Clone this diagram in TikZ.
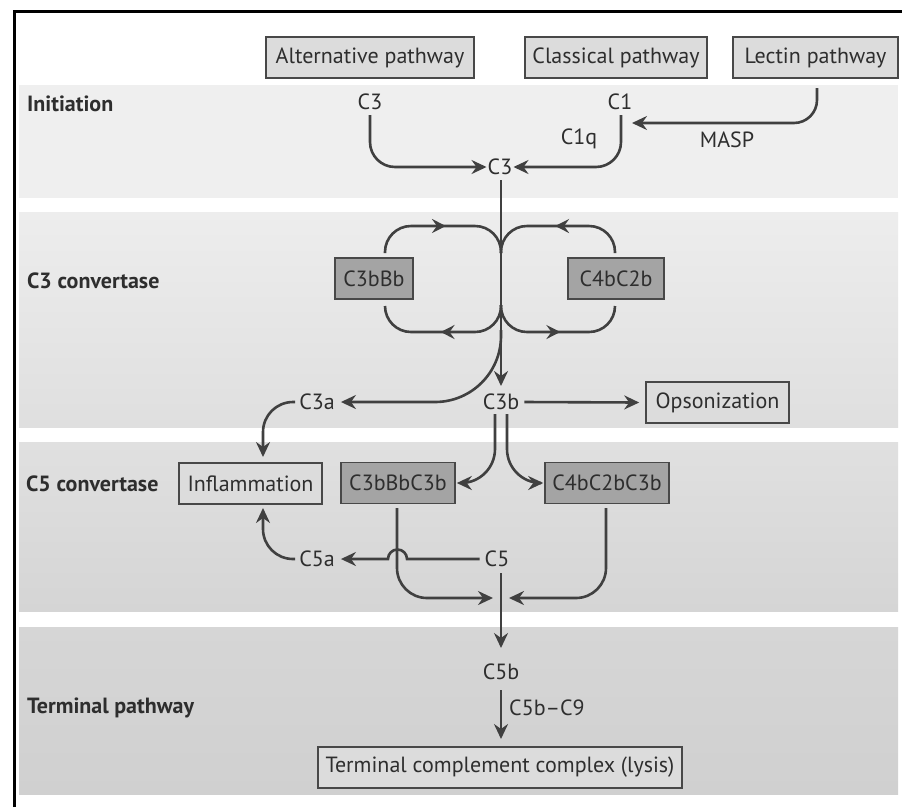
\documentclass[tikz,border=0pt]{standalone}
\usepackage{fontspec}
\setmainfont{PT Sans}
\usetikzlibrary{arrows.meta,decorations.markings}
\definecolor{ink}{HTML}{404040}
\definecolor{txt}{HTML}{2E2E2E}
\definecolor{boxline}{HTML}{484848}
\definecolor{lightfill}{HTML}{DCDCDC}
\definecolor{darkfill}{HTML}{A4A4A4}
\definecolor{bandA}{HTML}{EFEFEF}
\definecolor{bandBt}{HTML}{EDEDED}
\definecolor{bandBb}{HTML}{DFDFDF}
\definecolor{bandCt}{HTML}{E0E0E0}
\definecolor{bandCb}{HTML}{D5D5D5}
\definecolor{bandDt}{HTML}{D6D6D6}
\definecolor{bandDb}{HTML}{D0D0D0}
\begin{document}
\begin{tikzpicture}[x=1pt,y=-1pt,
  lbl/.style={text=txt, font=\fontsize{22}{24}\selectfont, inner sep=0pt},
  sec/.style={text=txt, font=\fontsize{22}{24}\selectfont\bfseries, anchor=west, inner sep=0pt},
  lightbox/.style={draw=boxline, line width=1.6pt, fill=lightfill, text=txt,
     font=\fontsize{22}{24}\selectfont, minimum height=41pt, inner sep=0pt},
  darkbox/.style={lightbox, fill=darkfill},
  con/.style={draw=ink, color=ink, line width=2.6pt, -{Stealth[length=15pt,width=14pt,inset=5pt]}},
  plain/.style={draw=ink, color=ink, line width=2.6pt},
  midarrow/.style={postaction=decorate, decoration={markings,
     mark=at position #1 with {\arrow{Stealth[length=14pt,width=14pt,inset=5pt]}}}}
]
\useasboundingbox (0,0) rectangle (902,807);
\fill[white] (0,0) rectangle (902,807);
% bands
\fill[bandA] (19,85) rectangle (898,198);
\shade[top color=bandBt, bottom color=bandBb] (19,212) rectangle (898,427);
\shade[top color=bandCt, bottom color=bandCb] (19,442) rectangle (898,611);
\shade[top color=bandDt, bottom color=bandDb] (19,627) rectangle (898,794);
% frame
\draw[black, line width=3pt] (14,807) -- (14,11) -- (902,11);

% section labels
\node[sec] (sInit) at (27,104) {Initiation};
\node[sec] (sC3) at (27,281) {C3 convertase};
\node[sec] (sC5) at (26,484) {C5 convertase};
\node[sec] (sTerm) at (27,708) {Terminal pathway};

% pathway boxes
\node[lightbox, minimum width=208pt] (alt) at (370,57.5) {Alternative pathway};
\node[lightbox, minimum width=182pt] (cla) at (616,57.5) {Classical pathway};
\node[lightbox, minimum width=165pt] (lec) at (815.5,57.5) {Lectin pathway};

% initiation labels
\node[lbl] (c3alt) at (370,102) {C3};
\node[lbl] (c1) at (620,102) {C1};
\node[lbl] (c1q) at (579,139) {C1q};
\node[lbl] (masp) at (727,140) {MASP};
\node[lbl] (c3) at (500,167) {C3};

% C3 convertase boxes
\node[darkbox, minimum width=78pt] (c3bbb) at (374,278.5) {C3bBb};
\node[darkbox, minimum width=96pt] (c4bc2b) at (616,278.5) {C4bC2b};

\node[lbl] (c3a) at (317,402) {C3a};
\node[lbl] (c3b) at (501,402) {C3b};
\node[lightbox, minimum width=143pt] (opso) at (717.5,402.5) {Opsonization};

% C5 convertase
\node[lightbox, minimum width=143pt] (infl) at (250.5,483.5) {Inflammation};
\node[darkbox, minimum width=114pt] (c3bbbc3b) at (398,483) {C3bBbC3b};
\node[darkbox, minimum width=124pt] (c4bc2bc3b) at (607,483) {C4bC2bC3b};
\node[lbl] (c5a) at (317,559) {C5a};
\node[lbl] (c5) at (497,559) {C5};

% terminal
\node[lbl] (c5b) at (501,672) {C5b};
\node[lbl, anchor=west] (c5c9) at (509,708) {C5b–C9};
\node[lightbox, minimum width=364pt] (tcc) at (500,767.5) {Terminal complement complex (lysis)};

% coordinates
\coordinate (lecS) at (817,88);
\coordinate (c1S) at (621,115);
\coordinate (altS) at (370,115);
\coordinate (c1tip) at (632,123);

% initiation connectors
\draw[con, rounded corners=25, shorten >=1pt] (altS) |- (c3.west);
\draw[con, rounded corners=25, shorten >=1pt] (c1S) |- (c3.east);
\draw[con, rounded corners=23] (lecS) |- (c1tip);

% main line
\draw[con] (501,180) -- (501,386);

% loops
\draw[plain, rounded corners=26, midarrow=0.52] (385,253) |- (501,226) -- (501,253);
\draw[plain, rounded corners=26, midarrow=0.52] (615,253) |- (501,226) -- (501,253);
\draw[plain, rounded corners=26, midarrow=0.52] (501,305) |- (385,332) -- (385,306);
\draw[plain, rounded corners=26, midarrow=0.52] (501,305) |- (615,332) -- (615,306);

% C3a branch
\draw[con, rounded corners=66] (501,330) |- ([xshift=6pt]c3a.east);
\draw[con] ([xshift=5pt]c3b.east) -- ([xshift=-6pt]opso.west);
\draw[con, rounded corners=30] ([xshift=-4pt]c3a.west) -| (263,457);

% C3b to C5 convertases
\draw[con, rounded corners=34, shorten >=1pt] (495,414) |- (c3bbbc3b.east);
\draw[con, rounded corners=34, shorten >=1pt] (507,414) |- (c4bc2bc3b.west);

% C5 cleavage
\draw[con] ([xshift=-5pt]c5.west) -- (407,559) arc[start angle=0, end angle=-180, radius=9.5] -- ([xshift=6pt]c5a.east);
\draw[con, rounded corners=30] ([xshift=-4pt]c5a.west) -| (263,508);
\draw[con, rounded corners=30] (397,508) |- (493,598);
\draw[con, rounded corners=30] (606,508) |- (509,598);
\draw[con] (501,573) -- (501,648);

% terminal
\draw[con] (501,690) -- (501,739);
\end{tikzpicture}
\end{document}
